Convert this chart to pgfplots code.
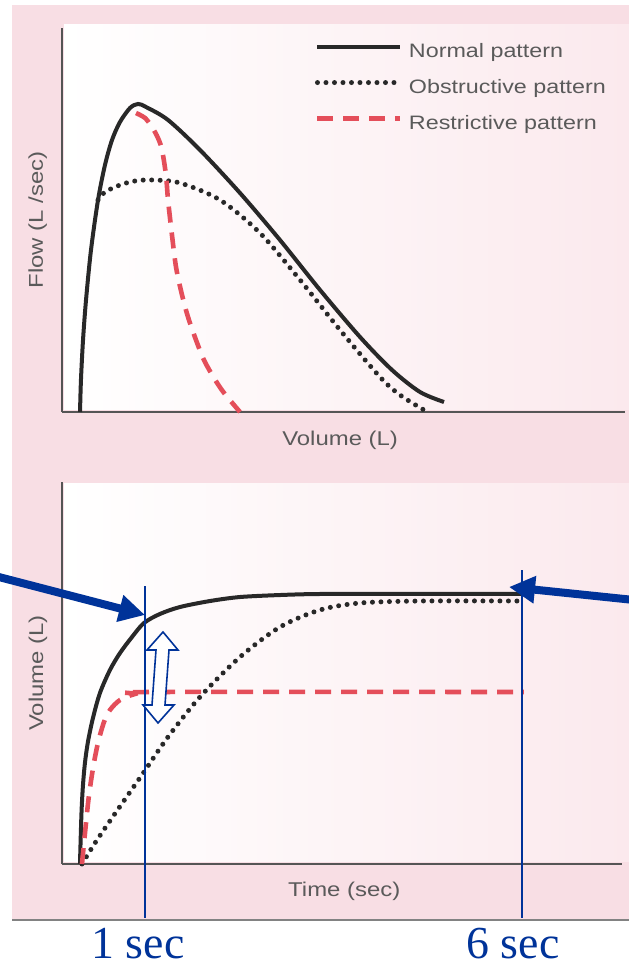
\documentclass[border=0pt]{standalone}
\usepackage{pgfplots}
\pgfplotsset{compat=1.18}
\usepackage{fontspec}
\setmainfont{Liberation Sans}
\newfontfamily\widesans[FakeStretch=1.2]{Liberation Sans}
\newfontfamily\timesfont{Liberation Serif}
\usetikzlibrary{arrows.meta}

\definecolor{pinkbg}{RGB}{248,222,228}
\definecolor{panelpink}{RGB}{251,233,237}
\definecolor{curveblack}{RGB}{40,40,40}
\definecolor{axisgray}{RGB}{85,85,85}
\definecolor{textgray}{RGB}{90,90,90}
\definecolor{restrred}{RGB}{228,78,90}
\definecolor{annblue}{RGB}{0,51,153}
\definecolor{rulegray}{RGB}{130,130,130}

\pgfplotsset{
  spiro/.style={
    scale only axis,
    axis x line=bottom, axis y line=left,
    axis line style={-, axisgray, line width=2.6bp},
    xtick=\empty, ytick=\empty,
    clip=false,
    label style={font=\widesans\fontsize{20}{24}\selectfont, text=textgray},
  },
  normal/.style={curveblack, line width=4bp, smooth},
  obstr/.style={curveblack, line width=5bp, line cap=round, dash pattern=on 0bp off 8.5bp, smooth},
  restr/.style={restrred, line width=4.6bp, dash pattern=on 16bp off 10bp, smooth},
}

\begin{document}
\begin{tikzpicture}
\useasboundingbox (0,0) rectangle (629bp,966bp);

% scanned page background
\begin{scope}[x=1bp,y=1bp]
\fill[white] (0,0) rectangle (629,966);
\fill[pinkbg] (12,46) rectangle (629,961);
\shade[left color=white, right color=panelpink] (64,556) rectangle (629,941);
\shade[left color=white, right color=panelpink] (64,104) rectangle (629,482);
\draw[rulegray, line width=1.5bp] (12,46) -- (629,46);
\end{scope}

% flow-volume loop
\begin{axis}[
  spiro,
  at={(62bp,554bp)}, anchor=south west,
  width=563bp, height=384bp,
  xmin=0, xmax=6, ymin=0, ymax=10,
  xlabel={Volume (L)},
  ylabel={Flow (L /sec)},
  x label style={at={(axis description cs:0.494,-0.073)}, anchor=center},
  y label style={at={(axis description cs:-0.043,0.5)}, anchor=center, rotate=0},
  legend style={at={(axis description cs:0.449,0.96)}, anchor=north west,
    draw=none, fill=none, inner sep=0pt, row sep=18bp,
    font=\widesans\fontsize{19.5}{22}\selectfont, text=textgray,
    nodes={inner sep=0pt, text height=14bp, text depth=4bp},
    /tikz/every odd column/.append style={column sep=6bp}},
  legend cell align=left,
  legend image code/.code={\draw[#1, smooth=false] (0bp,6bp) -- (83bp,6bp);},
]
\addplot [normal] table {
0.192 0
0.202 0.833
0.224 1.875
0.256 2.917
0.309 4.219
0.384 5.521
0.458 6.432
0.533 7.083
0.618 7.552
0.725 7.917
0.810 8.021
0.895 7.943
1.130 7.604
1.471 6.823
1.897 5.703
2.323 4.479
2.750 3.177
3.176 1.953
3.517 1.094
3.815 0.521
4.071 0.260
};
\addlegendentry{Normal pattern}
\addplot [obstr] table {
0.384 5.521
0.458 5.729
0.618 5.911
0.778 6.016
0.959 6.042
1.258 5.964
1.684 5.521
2.110 4.661
2.537 3.438
2.963 2.135
3.389 0.911
3.602 0.443
3.858 0.052
};
\addlegendentry{Obstructive pattern}
\addplot [restr] table {
0.789 7.786
0.885 7.656
0.959 7.422
1.023 7.135
1.066 6.823
1.108 6.172
1.130 5.521
1.172 4.609
1.215 3.776
1.279 3.047
1.343 2.474
1.428 1.875
1.513 1.354
1.620 0.885
1.727 0.495
1.897 0
};
\addlegendentry{Restrictive pattern}
\end{axis}

% volume-time curve
\begin{axis}[
  spiro,
  at={(62bp,102bp)}, anchor=south west,
  width=560bp, height=382bp,
  xmin=-0.244, xmax=7.354, ymin=0, ymax=7.074,
  xlabel={Time (sec)},
  ylabel={Volume (L)},
  x label style={at={(axis description cs:0.504,-0.071)}, anchor=center},
  y label style={at={(axis description cs:-0.043,0.5)}, anchor=center, rotate=0},
]
\addplot [normal] table {
0 0
0.010 0.500
0.022 1.000
0.040 1.450
0.068 1.880
0.109 2.270
0.176 2.704
0.271 3.167
0.407 3.593
0.543 3.907
0.706 4.204
0.868 4.463
1.085 4.630
1.357 4.759
1.764 4.870
2.171 4.944
2.714 4.981
3.256 5.0
4.342 5.0
5.997 5.0
};
\addplot [obstr] table {
0.027 0
0.204 0.389
0.434 0.852
0.651 1.278
0.868 1.704
1.194 2.352
1.628 3.093
2.171 3.833
2.714 4.389
3.256 4.704
3.799 4.833
4.613 4.870
5.997 4.870
};
\addplot [restr] table {
0.027 0
0.070 0.600
0.120 1.250
0.180 1.800
0.244 2.241
0.326 2.630
0.407 2.852
0.543 3.037
0.746 3.148
0.977 3.185
6.024 3.185
};
% 1 s and 6 s markers
\addplot [annblue, line width=1.8bp] coordinates {(0.882,5.148) (0.882,-1.0)};
\addplot [annblue, line width=1.8bp] coordinates {(5.997,5.444) (5.997,-1.0)};
\end{axis}

% annotations
\begin{scope}[x=1bp,y=1bp]
\draw[annblue, line width=8bp, -{Triangle[length=26bp,width=26bp]}] (-5,390) -- (145,351);
\draw[annblue, line width=8bp, -{Triangle[length=26bp,width=26bp]}] (634,366) -- (509,379);
\draw[annblue, line width=1.6bp, fill=white, line join=miter]
  (163,334) -- (178,316) -- (169,316) -- (165,261) -- (174,261) -- (158,243)
  -- (143,261) -- (152,261) -- (156,316) -- (147,316) -- cycle;
\node[annblue, inner sep=0pt, anchor=base, font=\timesfont\fontsize{46}{50}\selectfont] at (138,8) {1 sec};
\node[annblue, inner sep=0pt, anchor=base, font=\timesfont\fontsize{46}{50}\selectfont] at (513,8) {6 sec};
\end{scope}
\end{tikzpicture}
\end{document}
